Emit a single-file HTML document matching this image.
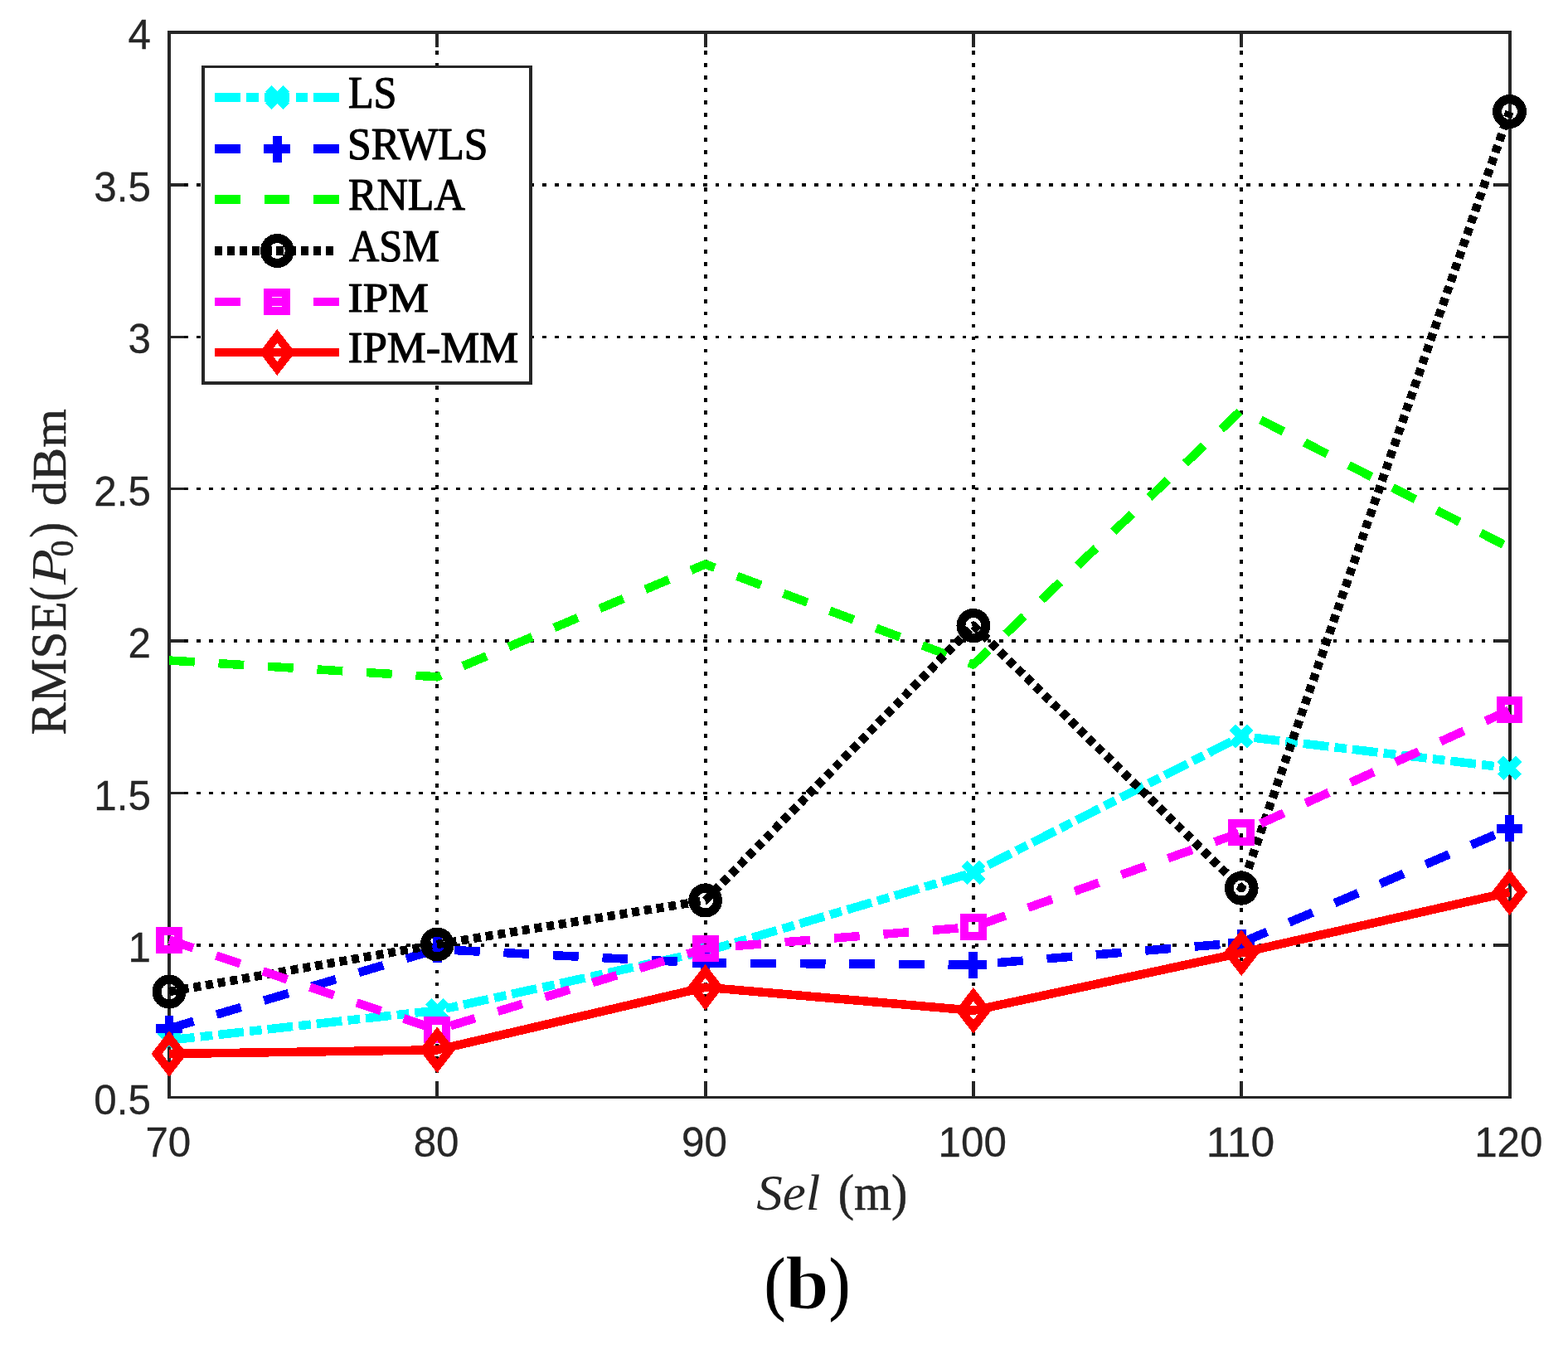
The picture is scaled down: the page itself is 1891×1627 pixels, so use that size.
<!DOCTYPE html>
<html lang="en">
<head>
<meta charset="utf-8">
<title>RMSE(P0) dBm versus Sel (m) - (b)</title>
<style>
html,body{margin:0;padding:0;background:#fff;}
body{width:1891px;height:1627px;overflow:hidden;}
svg{display:block;}
.tk{font-family:"Liberation Sans",sans-serif;font-size:49.8px;fill:#262626;stroke:#262626;stroke-width:0.3px;}
.lg{font-family:"Liberation Serif",serif;font-size:52px;fill:#000;stroke:#000;stroke-width:1.2px;stroke-linejoin:round;}
.lb{font-family:"Liberation Serif",serif;fill:#262626;stroke:#262626;stroke-width:0.6px;stroke-linejoin:round;}
.cap{font-family:"Liberation Serif",serif;fill:#000;}
.ns{stroke:none;}
.capp{stroke:#000;stroke-width:1.1px;stroke-linejoin:round;}
.capb{stroke:#fff;stroke-width:1.2px;stroke-linejoin:miter;}
</style>
</head>
<body>
<svg width="1891" height="1627" viewBox="0 0 1891 1627">
<rect x="0" y="0" width="1891" height="1627" fill="#ffffff"/>
<g id="grid" stroke="#000" fill="none" shape-rendering="crispEdges">
<path d="M222 223H1803.4" stroke-width="4" stroke-dasharray="4.7 10.2"/>
<path d="M222 406.5H1803.4" stroke-width="3" stroke-dasharray="4.7 10.2"/>
<path d="M222 589.5H1803.4" stroke-width="3" stroke-dasharray="4.7 10.2"/>
<path d="M222 773H1803.4" stroke-width="4" stroke-dasharray="4.7 10.2"/>
<path d="M222 956.5H1803.4" stroke-width="3" stroke-dasharray="4.7 10.2"/>
<path d="M222 1140H1803.4" stroke-width="4" stroke-dasharray="4.7 10.2"/>
<path d="M527 61V1305" stroke-width="4" stroke-dasharray="4.9 10.08"/>
<path d="M851 61V1305" stroke-width="4" stroke-dasharray="4.9 10.08"/>
<path d="M1174 61V1305" stroke-width="4" stroke-dasharray="4.9 10.08"/>
<path d="M1497 61V1305" stroke-width="4" stroke-dasharray="4.9 10.08"/>
</g>
<g id="axes" stroke="#262626" fill="none" shape-rendering="crispEdges">
<path d="M202 39H1823" stroke-width="4"/>
<path d="M202 1323.5H1823" stroke-width="3"/>
<path d="M204 37V1325" stroke-width="4"/>
<path d="M1821 37V1325" stroke-width="4"/>
<path d="M205 223H222M1802 223H1820" stroke-width="4"/>
<path d="M205 406.5H222M1802 406.5H1820" stroke-width="3"/>
<path d="M205 589.5H222M1802 589.5H1820" stroke-width="3"/>
<path d="M205 773H222M1802 773H1820" stroke-width="4"/>
<path d="M205 956.5H222M1802 956.5H1820" stroke-width="3"/>
<path d="M205 1140H222M1802 1140H1820" stroke-width="4"/>
<path d="M527 40V57M527 1304V1323" stroke-width="4"/>
<path d="M851 40V57M851 1304V1323" stroke-width="4"/>
<path d="M1174 40V57M1174 1304V1323" stroke-width="4"/>
<path d="M1497 40V57M1497 1304V1323" stroke-width="4"/>
</g>
<g id="data" fill="none" transform="scale(0.9948 1)" shape-rendering="crispEdges">
<g id="s-LS">
<polyline points="205.07,1254.5 530.06,1218.7 855.05,1147.5 1180.04,1052.4 1505.03,888 1830.02,926.2" stroke="#00ffff" stroke-width="10.5" stroke-linejoin="round" stroke-dasharray="30.96 7.24 14.78 6.932"/>
<path d="M194.17 1243.6L215.97 1265.4M194.17 1265.4L215.97 1243.6" stroke="#00ffff" stroke-width="10.5" fill="none"/>
<path d="M519.16 1207.8L540.96 1229.6M519.16 1229.6L540.96 1207.8" stroke="#00ffff" stroke-width="10.5" fill="none"/>
<path d="M844.15 1136.6L865.95 1158.4M844.15 1158.4L865.95 1136.6" stroke="#00ffff" stroke-width="10.5" fill="none"/>
<path d="M1169.14 1041.5L1190.94 1063.3M1169.14 1063.3L1190.94 1041.5" stroke="#00ffff" stroke-width="10.5" fill="none"/>
<path d="M1494.13 877.1L1515.93 898.9M1494.13 898.9L1515.93 877.1" stroke="#00ffff" stroke-width="10.5" fill="none"/>
<path d="M1819.12 915.3L1840.92 937.1M1819.12 937.1L1840.92 915.3" stroke="#00ffff" stroke-width="10.5" fill="none"/>
</g>
<g id="s-SRWLS">
<polyline points="205.07,1240.5 530.06,1145 855.05,1161.5 1180.04,1163.5 1505.03,1137 1830.02,999.4" stroke="#0000ff" stroke-width="10.5" stroke-linejoin="round" stroke-dasharray="30.96 28.952"/>
<path d="M189.07 1240.5H221.07M205.07 1224.5V1256.5" stroke="#0000ff" stroke-width="11" fill="none"/>
<path d="M514.06 1145H546.06M530.06 1129V1161" stroke="#0000ff" stroke-width="11" fill="none"/>
<path d="M839.05 1161.5H871.05M855.05 1145.5V1177.5" stroke="#0000ff" stroke-width="11" fill="none"/>
<path d="M1164.04 1163.5H1196.04M1180.04 1147.5V1179.5" stroke="#0000ff" stroke-width="11" fill="none"/>
<path d="M1489.03 1137H1521.03M1505.03 1121V1153" stroke="#0000ff" stroke-width="11" fill="none"/>
<path d="M1814.02 999.4H1846.02M1830.02 983.4V1015.4" stroke="#0000ff" stroke-width="11" fill="none"/>
</g>
<g id="s-RNLA">
<polyline points="205.07,796.5 530.06,816.3 855.05,680.5 1180.04,801.5 1505.03,494.5 1830.02,660.5" stroke="#00ff00" stroke-width="10.5" stroke-linejoin="round" stroke-dasharray="30.96 28.952"/>
</g>
<g id="s-ASM">
<polyline points="205.07,1196.1 530.06,1139 855.05,1086 1180.04,754.5 1505.03,1071.2 1830.02,134.6" stroke="#000000" stroke-width="10.5" stroke-linejoin="round" stroke-dasharray="9.05 5.928"/>
<circle cx="205.07" cy="1196.1" r="15" stroke="#000000" stroke-width="11" fill="none"/>
<circle cx="530.06" cy="1139" r="15" stroke="#000000" stroke-width="11" fill="none"/>
<circle cx="855.05" cy="1086" r="15" stroke="#000000" stroke-width="11" fill="none"/>
<circle cx="1180.04" cy="754.5" r="15" stroke="#000000" stroke-width="11" fill="none"/>
<circle cx="1505.03" cy="1071.2" r="15" stroke="#000000" stroke-width="11" fill="none"/>
<circle cx="1830.02" cy="134.6" r="15" stroke="#000000" stroke-width="11" fill="none"/>
</g>
<g id="s-IPM">
<polyline points="205.07,1133.5 530.06,1242 855.05,1143.9 1180.04,1118 1505.03,1003.9 1830.02,856.4" stroke="#ff00ff" stroke-width="10.5" stroke-linejoin="round" stroke-dasharray="30.96 28.952"/>
<rect x="194.07" y="1122.5" width="22" height="22" stroke="#ff00ff" stroke-width="10" fill="none"/>
<rect x="519.06" y="1231" width="22" height="22" stroke="#ff00ff" stroke-width="10" fill="none"/>
<rect x="844.05" y="1132.9" width="22" height="22" stroke="#ff00ff" stroke-width="10" fill="none"/>
<rect x="1169.04" y="1107" width="22" height="22" stroke="#ff00ff" stroke-width="10" fill="none"/>
<rect x="1494.03" y="992.9" width="22" height="22" stroke="#ff00ff" stroke-width="10" fill="none"/>
<rect x="1819.02" y="845.4" width="22" height="22" stroke="#ff00ff" stroke-width="10" fill="none"/>
</g>
<g id="s-IPM-MM">
<polyline points="205.07,1271 530.06,1266.3 855.05,1190.7 1180.04,1218.8 1505.03,1149.2 1830.02,1076.1" stroke="#ff0000" stroke-width="10.5" stroke-linejoin="round"/>
<path d="M205.07 1251.5L220.22 1271L205.07 1290.5L189.92 1271Z" stroke="#ff0000" stroke-width="10.3" stroke-linejoin="miter" stroke-miterlimit="10" fill="none"/>
<path d="M530.06 1246.8L545.21 1266.3L530.06 1285.8L514.91 1266.3Z" stroke="#ff0000" stroke-width="10.3" stroke-linejoin="miter" stroke-miterlimit="10" fill="none"/>
<path d="M855.05 1171.2L870.2 1190.7L855.05 1210.2L839.9 1190.7Z" stroke="#ff0000" stroke-width="10.3" stroke-linejoin="miter" stroke-miterlimit="10" fill="none"/>
<path d="M1180.04 1199.3L1195.19 1218.8L1180.04 1238.3L1164.89 1218.8Z" stroke="#ff0000" stroke-width="10.3" stroke-linejoin="miter" stroke-miterlimit="10" fill="none"/>
<path d="M1505.03 1129.7L1520.18 1149.2L1505.03 1168.7L1489.88 1149.2Z" stroke="#ff0000" stroke-width="10.3" stroke-linejoin="miter" stroke-miterlimit="10" fill="none"/>
<path d="M1830.02 1056.6L1845.17 1076.1L1830.02 1095.6L1814.87 1076.1Z" stroke="#ff0000" stroke-width="10.3" stroke-linejoin="miter" stroke-miterlimit="10" fill="none"/>
</g>
</g>
<g id="legend" shape-rendering="crispEdges">
<rect x="245" y="80.5" width="395" height="381.5" fill="#fff" stroke="none"/>
<g stroke="#262626" fill="none" shape-rendering="crispEdges"><path d="M243 80.5H642" stroke-width="3"/><path d="M243 462H642" stroke-width="4"/><path d="M245 79V464" stroke-width="4"/><path d="M640 79V464" stroke-width="4"/></g>
<path transform="scale(0.9948 1)" d="M260.35 117.5H411.14" stroke="#00ffff" stroke-width="10.5" fill="none" stroke-dasharray="30.96 7.24 14.78 6.932"/>
<g transform="scale(0.9948 1)"><path d="M325.15 106.6L346.95 128.4M325.15 128.4L346.95 106.6" stroke="#00ffff" stroke-width="10.5" fill="none"/></g>
<text class="lg"><tspan x="419.89" y="129.75" font-size="55.07" textLength="58.62" lengthAdjust="spacingAndGlyphs">LS</tspan></text>
<path transform="scale(0.9948 1)" d="M260.35 179.5H411.14" stroke="#0000ff" stroke-width="10.5" fill="none" stroke-dasharray="30.96 28.952"/>
<g transform="scale(0.9948 1)"><path d="M320.05 179.5H352.05M336.05 163.5V195.5" stroke="#0000ff" stroke-width="11" fill="none"/></g>
<text class="lg"><tspan x="419.09" y="191.64" font-size="55.07" textLength="169.46" lengthAdjust="spacingAndGlyphs">SRWLS</tspan></text>
<path transform="scale(0.9948 1)" d="M260.35 240.5H411.14" stroke="#00ff00" stroke-width="10.5" fill="none" stroke-dasharray="30.96 28.952"/>
<text class="lg"><tspan x="419.95" y="252.7" font-size="54.05" textLength="140.93" lengthAdjust="spacingAndGlyphs">RNLA</tspan></text>
<path transform="scale(0.9948 1)" d="M260.35 302.5H410.03" stroke="#000000" stroke-width="10.5" fill="none" stroke-dasharray="9.05 5.928"/>
<g transform="scale(0.9948 1)"><circle cx="336.05" cy="302.5" r="15" stroke="#000000" stroke-width="11" fill="none"/></g>
<text class="lg"><tspan x="421" y="314.95" font-size="55.01" textLength="108.99" lengthAdjust="spacingAndGlyphs">ASM</tspan></text>
<path transform="scale(0.9948 1)" d="M260.35 364H411.14" stroke="#ff00ff" stroke-width="10.5" fill="none" stroke-dasharray="30.96 28.952"/>
<g transform="scale(0.9948 1)"><rect x="325.05" y="353" width="22" height="22" stroke="#ff00ff" stroke-width="10" fill="none"/></g>
<text class="lg"><tspan x="419.58" y="375.7" font-size="51.71" textLength="97.45" lengthAdjust="spacingAndGlyphs">IPM</tspan></text>
<path transform="scale(0.9948 1)" d="M260.35 425H411.14" stroke="#ff0000" stroke-width="10.5" fill="none"/>
<g transform="scale(0.9948 1)"><path d="M336.05 405.5L351.2 425L336.05 444.5L320.9 425Z" stroke="#ff0000" stroke-width="10.3" stroke-linejoin="miter" stroke-miterlimit="10" fill="none"/></g>
<text class="lg"><tspan x="419.8" y="437.4" font-size="52.76" textLength="205.34" lengthAdjust="spacingAndGlyphs">IPM-MM</tspan></text>
</g>
<g id="ticklabels">
<text class="tk" x="154.48" y="59.3" textLength="27.42" lengthAdjust="spacingAndGlyphs">4</text>
<text class="tk" x="113.36" y="242.77" textLength="68.54" lengthAdjust="spacingAndGlyphs">3.5</text>
<text class="tk" x="154.48" y="426.24" textLength="27.42" lengthAdjust="spacingAndGlyphs">3</text>
<text class="tk" x="113.36" y="609.71" textLength="68.54" lengthAdjust="spacingAndGlyphs">2.5</text>
<text class="tk" x="154.48" y="793.19" textLength="27.42" lengthAdjust="spacingAndGlyphs">2</text>
<text class="tk" x="113.36" y="976.66" textLength="68.54" lengthAdjust="spacingAndGlyphs">1.5</text>
<text class="tk" x="154.48" y="1160.13" textLength="27.42" lengthAdjust="spacingAndGlyphs">1</text>
<text class="tk" x="113.36" y="1343.6" textLength="68.54" lengthAdjust="spacingAndGlyphs">0.5</text>
<text class="tk" x="175.38" y="1394.6" textLength="54.84" lengthAdjust="spacingAndGlyphs">70</text>
<text class="tk" x="498.68" y="1394.6" textLength="54.84" lengthAdjust="spacingAndGlyphs">80</text>
<text class="tk" x="821.98" y="1394.6" textLength="54.84" lengthAdjust="spacingAndGlyphs">90</text>
<text class="tk" x="1131.57" y="1394.6" textLength="82.26" lengthAdjust="spacingAndGlyphs">100</text>
<text class="tk" x="1454.87" y="1394.6" textLength="82.26" lengthAdjust="spacingAndGlyphs">110</text>
<text class="tk" x="1778.17" y="1394.6" textLength="82.26" lengthAdjust="spacingAndGlyphs">120</text>
</g>
<g id="labels">
<text class="lb"><tspan class="ns" x="912.3" y="1459.4" font-size="60.21" font-style="italic" textLength="77.1" lengthAdjust="spacingAndGlyphs">Sel</tspan> <tspan x="1010.65" y="1458.98" font-size="60.56" textLength="83.6" lengthAdjust="spacingAndGlyphs">(m)</tspan></text>
<g transform="translate(79 884.94) rotate(-90)">
<text class="lb"><tspan x="-1.47" y="0.1" font-size="60.3" textLength="160.92" lengthAdjust="spacingAndGlyphs">RMSE</tspan><tspan x="160" y="0.51" font-size="62.54" textLength="17.76" lengthAdjust="spacingAndGlyphs">(</tspan><tspan class="ns" x="180.05" y="0.15" font-size="59.82" font-style="italic" textLength="42.76" lengthAdjust="spacingAndGlyphs">P</tspan><tspan x="213.4" y="8.49" font-size="40.89" textLength="20" lengthAdjust="spacingAndGlyphs">0</tspan><tspan x="236.27" y="0.51" font-size="62.54" textLength="18.75" lengthAdjust="spacingAndGlyphs">)</tspan> <tspan x="275" y="-0.07" font-size="56.86" textLength="116.9" lengthAdjust="spacingAndGlyphs">dBm</tspan></text>
</g>
</g>
<g id="caption">
<text class="cap"><tspan class="capp" x="922" y="1576.41" font-size="85.37" textLength="25.07" lengthAdjust="spacingAndGlyphs">(</tspan><tspan class="capb" x="947.17" y="1577.67" font-size="91.26" font-weight="bold" textLength="52.4" lengthAdjust="spacingAndGlyphs">b</tspan><tspan class="capp" x="999.92" y="1576.41" font-size="85.37" textLength="25.01" lengthAdjust="spacingAndGlyphs">)</tspan></text>
</g>
</svg>
</body>
</html>
